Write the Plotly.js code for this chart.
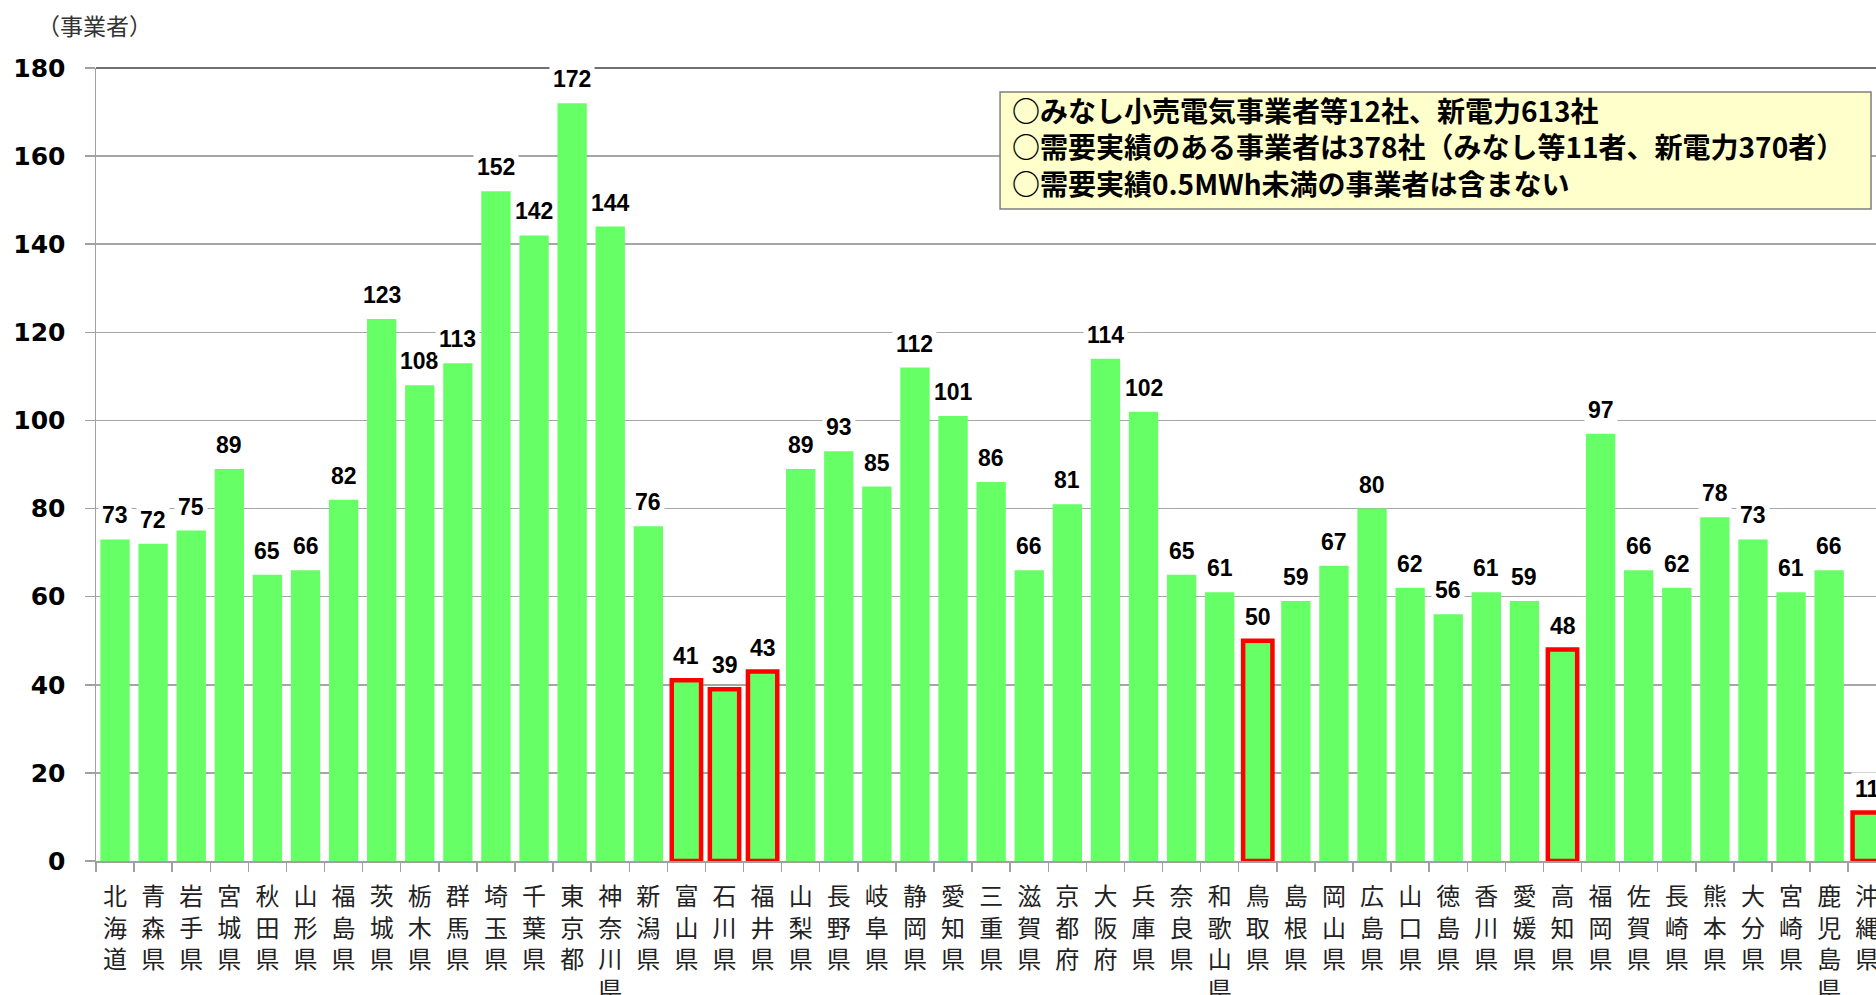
<!DOCTYPE html>
<html>
<head>
<meta charset="utf-8">
<script src="https://cdn.plot.ly/plotly-3.0.1.min.js"></script>
<style>
html,body{margin:0;padding:0;background:#fff;overflow:hidden;}
#chart{width:1876px;height:995px;}
</style>
</head>
<body>
<div id="chart"></div>
<script>
// ---- data ----
const prefectures = ["北海道","青森県","岩手県","宮城県","秋田県","山形県","福島県","茨城県","栃木県","群馬県","埼玉県","千葉県","東京都","神奈川県","新潟県","富山県","石川県","福井県","山梨県","長野県","岐阜県","静岡県","愛知県","三重県","滋賀県","京都府","大阪府","兵庫県","奈良県","和歌山県","鳥取県","島根県","岡山県","広島県","山口県","徳島県","香川県","愛媛県","高知県","福岡県","佐賀県","長崎県","熊本県","大分県","宮崎県","鹿児島県","沖縄県"];
const operators = [73,72,75,89,65,66,82,123,108,113,152,142,172,144,76,41,39,43,89,93,85,112,101,86,66,81,114,102,65,61,50,59,67,80,62,56,61,59,48,97,66,62,78,73,61,66,11];
const highlighted = ["富山県","石川県","福井県","鳥取県","高知県","沖縄県"];
const yTicks = [0,20,40,60,80,100,120,140,160,180];
const unitLabel = "（事業者）";
const noteLines = [
  "○みなし小売電気事業者等12社、新電力613社",
  "○需要実績のある事業者は378社（みなし等11者、新電力370者）",
  "○需要実績0.5MWh未満の事業者は含まない"
];

// ---- chart ----
const lineColors = prefectures.map(p => highlighted.includes(p) ? "#ff0000" : "rgba(0,0,0,0)");
const lineWidths = prefectures.map(p => highlighted.includes(p) ? 4.5 : 0);

const trace = {
  type: "bar",
  x: prefectures,
  y: operators,
  marker: { color: "#66ff66", line: { color: lineColors, width: lineWidths } },
  hoverinfo: "x+y"
};

const annotations = prefectures.map((p, i) => ({
  x: p, y: operators[i], xref: "x", yref: "y",
  text: String(operators[i]),
  showarrow: false, yanchor: "bottom", yshift: 7,
  bgcolor: "#ffffff", borderpad: 3,
  font: { family: "Liberation Sans, Arial, sans-serif", size: 23, color: "#000", weight: 700 }
}));
annotations.push({
  xref: "paper", yref: "paper", x: -0.0343, y: 1.0542, xanchor: "left", yanchor: "middle",
  text: unitLabel, showarrow: false,
  font: { family: "Noto Sans CJK JP", size: 23, color: "#333" }
});
annotations.push({
  xref: "paper", yref: "paper", x: 0.5135, y: 0.9016, xanchor: "left", yanchor: "middle",
  align: "left",
  text: noteLines.join("<br>"), showarrow: false,
  font: { family: "Noto Sans CJK JP", size: 28, color: "#000", weight: 700 }
});

const layout = {
  width: 1876, height: 995,
  margin: { l: 96, r: 0, t: 68, b: 134 },
  paper_bgcolor: "#fff", plot_bgcolor: "#fff",
  bargap: 0.23,
  showlegend: false,
  xaxis: {
    type: "category",
    range: [-0.5, 46.23],
    tickvals: prefectures,
    ticktext: prefectures.map(p => p.split("").join("<br>")),
    tickangle: 0,
    tickfont: { family: "Noto Sans CJK JP", size: 24, color: "#222" },
    ticks: "outside", tickson: "boundaries", ticklen: 9, tickwidth: 1.5, tickcolor: "#a0a0a0",
    ticklabelstandoff: 14,
    showline: true, linecolor: "#a0a0a0", linewidth: 1.5,
    showgrid: false, zeroline: false, fixedrange: true
  },
  yaxis: {
    range: [0, 180],
    tickvals: yTicks,
    tickfont: { family: "DejaVu Sans", size: 25, color: "#000", weight: 700 },
    ticks: "outside", ticklen: 10, tickwidth: 1.5, tickcolor: "#a0a0a0",
    ticklabelstandoff: 14,
    showline: true, linecolor: "#a0a0a0", linewidth: 1.5,
    showgrid: true, gridcolor: "#a6a6a6", gridwidth: 1.5,
    zeroline: false, fixedrange: true
  },
  shapes: [
    { type: "line", xref: "paper", yref: "paper", x0: 0, x1: 1, y0: 1, y1: 1,
      line: { color: "#404040", width: 1.5 } },
    { type: "rect", xref: "paper", yref: "paper", x0: 0.5079, x1: 0.9972, y0: 0.8222, y1: 0.9697,
      fillcolor: "#ffffcc", line: { color: "#7f7f7f", width: 1.5 }, layer: "above" }
  ],
  annotations: annotations
};

Plotly.newPlot("chart", [trace], layout, { displayModeBar: false, staticPlot: true });
</script>
</body>
</html>
